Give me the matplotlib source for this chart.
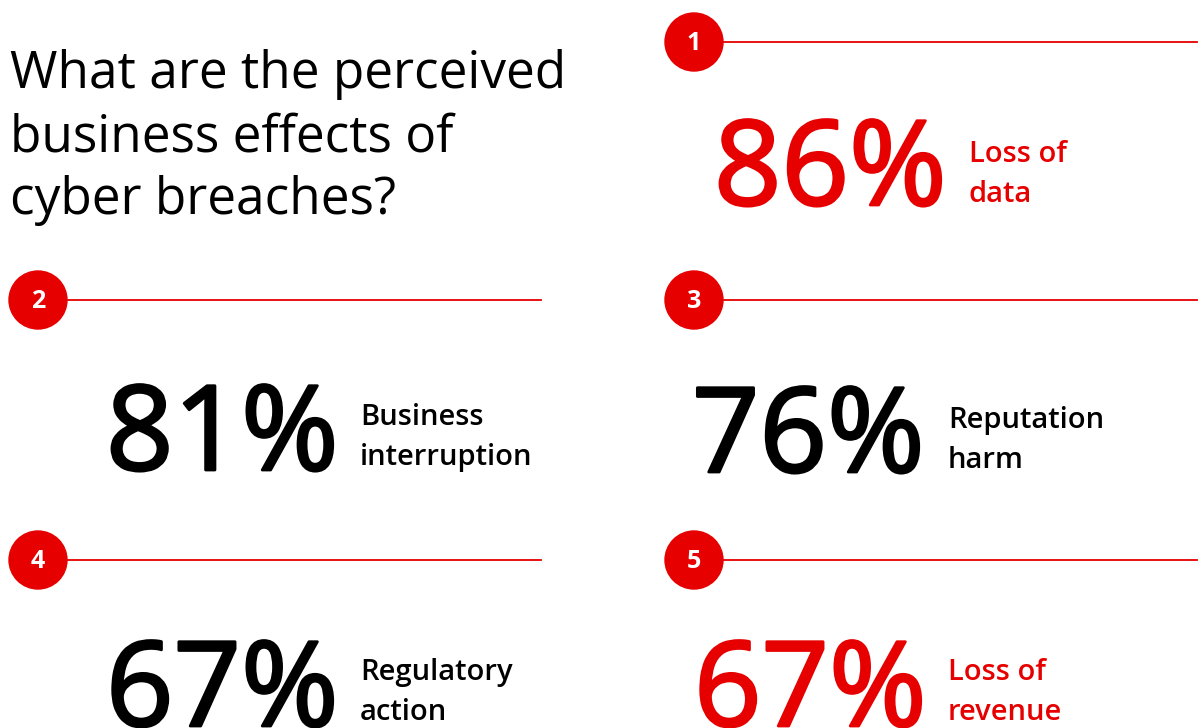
import matplotlib.pyplot as plt
import matplotlib.patheffects as pe
from matplotlib.patches import Circle

RED = "#e60000"
FONT = "Open Sans"

title = "What are the perceived\nbusiness effects of\ncyber breaches?"

ranks = [1, 2, 3, 4, 5]
shares = [86, 81, 76, 67, 67]
effects = [
    "Loss of\ndata",
    "Business\ninterruption",
    "Reputation\nharm",
    "Regulatory\naction",
    "Loss of\nrevenue",
]
highlight = [True, False, False, False, True]

# layout (pixels): circle centre, number left / baseline, label left / first baseline
circle_xy = [(694, 42), (38, 300), (694, 300), (38, 560), (694, 560)]
line_end = [1197, 541, 1197, 541, 1197]
number_xy = [(714, 205), (106, 470), (692, 472), (106, 726), (694, 726)]
label_xy = [(969, 162), (360, 425), (948, 428), (360, 680), (948, 680)]

plt.rcParams["font.family"] = [FONT, "DejaVu Sans"]

fig = plt.figure(figsize=(11.99, 7.28), dpi=100)
ax = fig.add_axes([0, 0, 1, 1])
ax.set_xlim(0, 1199)
ax.set_ylim(728, 0)
ax.set_aspect("equal")
ax.axis("off")

# title, one line at a time
for i, line in enumerate(title.split("\n")):
    ax.text(10, 88 + i * 63, line, fontsize=37, color="black",
            ha="left", va="baseline")

for k in range(len(ranks)):
    cx, cy = circle_xy[k]
    color = RED if highlight[k] else "black"

    ax.plot([cx, line_end[k]], [cy, cy], color=RED, lw=1.3, zorder=1)
    ax.add_patch(Circle((cx, cy), 29, color=RED, zorder=2))
    ax.text(cx, cy + 1, str(ranks[k]), color="white", fontsize=18,
            fontweight="bold", ha="center", va="center", zorder=3)

    # big figure; a thin outline in the same colour makes it a bit heavier
    nx, ny = number_xy[k]
    ax.text(nx, ny, f"{shares[k]}%", color=color, fontsize=85,
            ha="left", va="baseline",
            path_effects=[pe.withStroke(linewidth=2, foreground=color)])

    lx, ly = label_xy[k]
    for j, part in enumerate(effects[k].split("\n")):
        ax.text(lx, ly + j * 40, part, color=color, fontsize=21,
                fontweight="semibold", ha="left", va="baseline")

fig.savefig("out.png", dpi=100)
